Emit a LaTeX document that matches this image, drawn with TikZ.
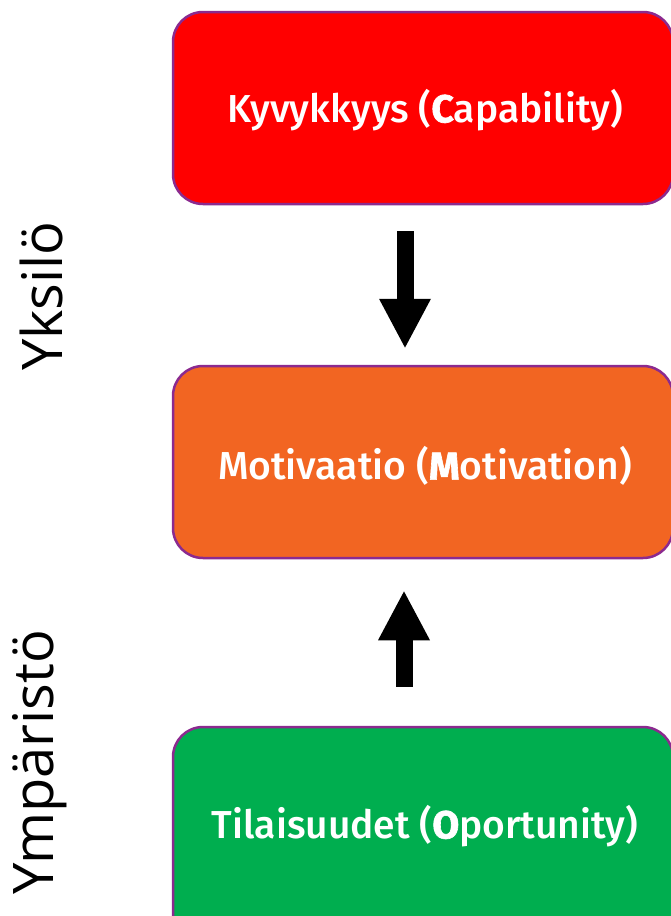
\documentclass[tikz,border=0pt]{standalone}
\usepackage{fontspec}
\setmainfont{Fira Sans Medium}[BoldFont={Fira Sans Bold}, BoldFeatures={FakeBold=1.6}]
\newfontfamily\sidefont{Open Sans}
\usetikzlibrary{arrows.meta}
\definecolor{boxred}{HTML}{FF0000}
\definecolor{boxorange}{HTML}{F26522}
\definecolor{boxgreen}{HTML}{00AE4F}
\definecolor{boxborder}{HTML}{8B2A8F}
\tikzset{
  box/.style={draw=boxborder, line width=2.5pt, rounded corners=30pt, minimum width=500pt, inner sep=0pt},
  boxtext/.style={text=white, font=\fontsize{39}{44}\selectfont},
  bigarrow/.style={line width=17pt, -{Triangle[width=48pt,length=50pt]}},
  sidelabel/.style={rotate=90, font=\sidefont\fontsize{56}{60}\selectfont, inner sep=0pt}
}
\begin{document}
\begin{tikzpicture}[x=1pt,y=-1pt]
\useasboundingbox (0,0) rectangle (671,916);
\clip (0,0) rectangle (671,916);
\node[box, fill=boxred, minimum height=192pt] (cap) at (423,108) {};
\node[boxtext] (captext) at (425,110) {Kyvykkyys (\textbf{C}apability)};
\node[box, fill=boxorange, minimum height=192pt] (mot) at (423,462) {};
\node[boxtext] (mottext) at (425,466) {Motivaatio (\textbf{M}otivation)};
\node[box, fill=boxgreen, minimum height=230pt] (opp) at (423,842) {};
\node[boxtext] (opptext) at (425,826) {Tilaisuudet (\textbf{O}portunity)};
\draw[bigarrow] ([xshift=-18pt,yshift=-26pt]cap.south) -- ([xshift=-18pt,yshift=16pt]mot.north);
\draw[bigarrow] ([xshift=-19pt,yshift=39pt]opp.north) -- ([xshift=-19pt,yshift=-31pt]mot.south);
\node[sidelabel] (yks) at (41,296) {Yksilö};
\node[sidelabel] (ymp) at (40,762) {Ympäristö};
\end{tikzpicture}
\end{document}
